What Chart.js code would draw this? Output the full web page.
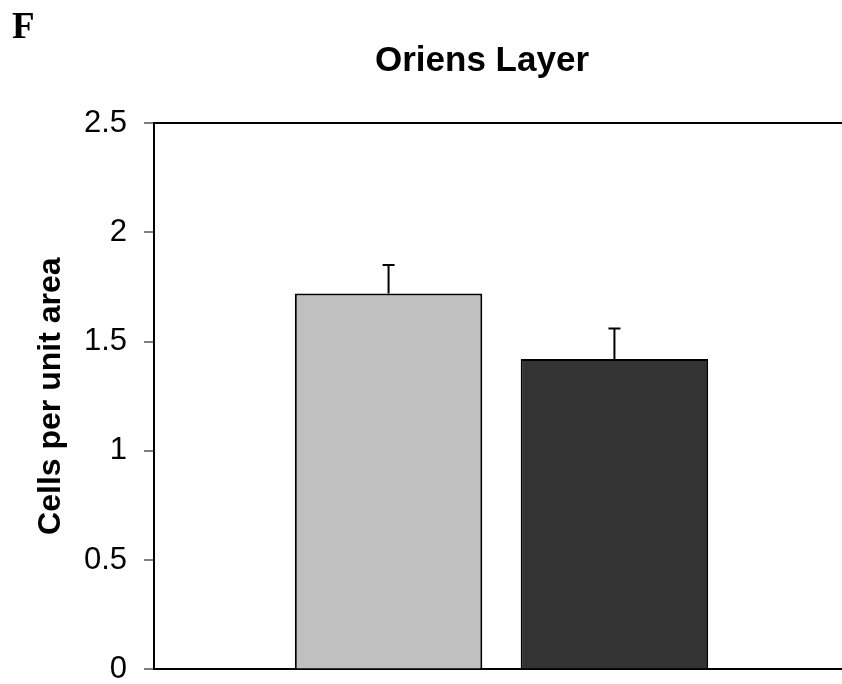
<!DOCTYPE html>
<html>
<head>
<meta charset="utf-8">
<script src="https://cdn.jsdelivr.net/npm/chart.js@4.4.1/dist/chart.umd.min.js"></script>
<style>
  html, body { margin: 0; padding: 0; background: #fff; overflow: hidden; }
  #wrap { width: 860px; height: 705px; }
</style>
</head>
<body>
<div id="wrap"><canvas id="myChart" width="860" height="705"></canvas></div>
<script>
// values
const categories = [''];
const groupNames = ['Control', 'Treated'];
const cellValues = [1.72, 1.42];
const cellErrors = [0.13, 0.14];
const barColors = ['#c0c0c0', '#333333'];
const yTicks = [0, 0.5, 1, 1.5, 2, 2.5];

// error bars (upper half only, like the original)
const errorBars = {
    id: 'errorBars',
    afterDatasetsDraw(chart) {
        const ctx = chart.ctx;
        const y = chart.scales.y;
        ctx.save();
        ctx.strokeStyle = '#000';
        ctx.lineWidth = 2;
        chart.data.datasets.forEach((ds, i) => {
            const meta = chart.getDatasetMeta(i);
            meta.data.forEach((bar, j) => {
                const v = ds.data[j];
                const top = y.getPixelForValue(v + ds.errors[j]);
                const base = y.getPixelForValue(v);
                ctx.beginPath();
                ctx.moveTo(bar.x, base);
                ctx.lineTo(bar.x, top);
                ctx.moveTo(bar.x - 6, top);
                ctx.lineTo(bar.x + 6, top);
                ctx.stroke();
            });
        });
        ctx.restore();
    }
};

// panel letter and title text
const headings = {
    id: 'headings',
    afterDraw(chart) {
        const ctx = chart.ctx;
        ctx.save();
        ctx.fillStyle = '#000';
        ctx.textBaseline = 'alphabetic';
        ctx.font = 'bold 37px "Liberation Serif", "Times New Roman", serif';
        ctx.textAlign = 'left';
        ctx.fillText('F', 12, 38);
        ctx.font = 'bold 35px "Liberation Sans", Arial, sans-serif';
        ctx.textAlign = 'center';
        ctx.fillText('Oriens Layer', 482, 71);
        ctx.restore();
    }
};

const data = {
    labels: categories,
    datasets: groupNames.map((name, i) => ({
        label: name,
        data: [cellValues[i]],
        errors: [cellErrors[i]],
        backgroundColor: barColors[i],
        borderColor: '#000',
        borderWidth: 2,
        categoryPercentage: 0.65,
        barPercentage: 0.83
    }))
};

const config = {
    type: 'bar',
    data: data,
    options: {
        responsive: false,
        animation: false,
        layout: { padding: { top: 123, right: 11, bottom: 15, left: 0 } },
        plugins: {
            legend: { display: false },
            title: { display: false },
            tooltip: { enabled: false }
        },
        scales: {
            x: {
                grid: { display: false },
                ticks: { display: false },
                border: { display: true, color: '#000', width: 2 },
                afterFit: (scale) => { scale.height = 0; }
            },
            y: {
                min: 0,
                max: 2.5,
                afterBuildTicks: (scale) => { scale.ticks = yTicks.map(v => ({ value: v })); },
                afterFit: (scale) => { scale.width = 154; },
                border: { display: true, color: '#000', width: 2 },
                grid: {
                    color: (c) => c.tick && c.tick.value === 2.5 ? '#000' : 'rgba(0,0,0,0)',
                    lineWidth: 2,
                    tickColor: '#000',
                    tickWidth: 1,
                    tickLength: 10
                },
                ticks: {
                    color: '#000',
                    padding: 17,
                    font: { family: '"Liberation Sans", Arial, sans-serif', size: 31 },
                    callback: (v) => String(v)
                },
                title: {
                    display: true,
                    text: 'Cells per unit area',
                    color: '#000',
                    padding: { top: 32, bottom: 0 },
                    font: { family: '"Liberation Sans", Arial, sans-serif', size: 32, weight: 'bold' }
                }
            }
        }
    },
    plugins: [errorBars, headings]
};

const myChart = new Chart(document.getElementById('myChart').getContext('2d'), config);
</script>
</body>
</html>
